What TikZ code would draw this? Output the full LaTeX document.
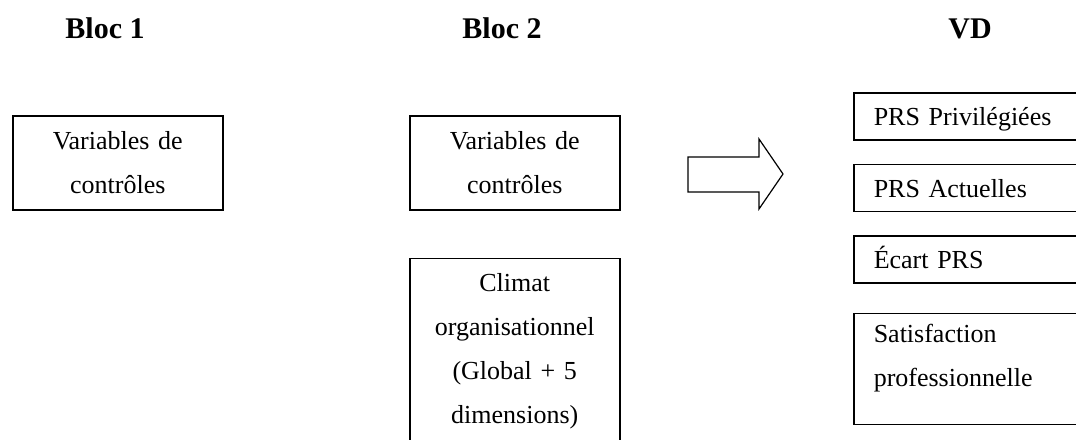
\documentclass[tikz,border=0pt]{standalone}
\usepackage{fontspec}
\setmainfont{Liberation Serif}
\usepackage{tikz}
\usetikzlibrary{positioning}

\begin{document}
\begin{tikzpicture}[
    x=1pt, y=1pt,
    every node/.style={font=\fontsize{26}{44}\selectfont},
    titre/.style={anchor=base, font=\fontsize{30}{36}\selectfont\bfseries},
    boxCtl/.style={rectangle, draw=black, line width=1.5pt, text width=190pt, inner xsep=10pt, align=center, minimum height=94pt, anchor=north west},
    boxVD/.style={rectangle, draw=black, line width=1.5pt, text width=200pt, inner xsep=20pt, align=left, minimum height=47pt, anchor=north west, text height=22pt, text depth=3pt},
    fleche/.style={draw=black, line width=1.2pt, line join=miter}
]
% ============== Cadre ==============
\useasboundingbox (0,0) rectangle (1076,-439);
\clip (0,0) rectangle (1076,-439);

% ============== Titres ==============
\node[titre] (t1) at (105,-38) {Bloc 1};
\node[titre] (t2) at (502,-38) {Bloc 2};
\node[titre] (tvd) at (970,-38) {VD};

% ============== Bloc 1 ==============
\node[boxCtl] (ctl1) at (12,-115) {Variables de\\contr\^oles};

% ============== Bloc 2 ==============
\node[boxCtl] (ctl2) at (409,-115) {Variables de\\contr\^oles};
\node[boxCtl, below=47pt of ctl2, minimum height=200pt, text height=18pt, text depth=152pt] (climat) {Climat\\organisationnel\\(Global + 5\\dimensions)};

% ============== Fleche ==============
\draw[fleche] (688,-157) -- (759,-157) -- (759,-139) -- (783,-174) -- (759,-209) -- (759,-192) -- (688,-192) -- cycle;

% ============== VD (Droite) ==============
\node[boxVD] (prsP) at (853,-92) {PRS Privil\'egi\'ees};
\node[boxVD, below=23pt of prsP] (prsA) {PRS Actuelles};
\node[boxVD, below=23pt of prsA] (ecart) {\'Ecart PRS};
\node[boxVD, below=29pt of ecart, minimum height=111pt, text height=18pt, text depth=71pt] (satis) {Satisfaction\\professionnelle};
\end{tikzpicture}
\end{document}
